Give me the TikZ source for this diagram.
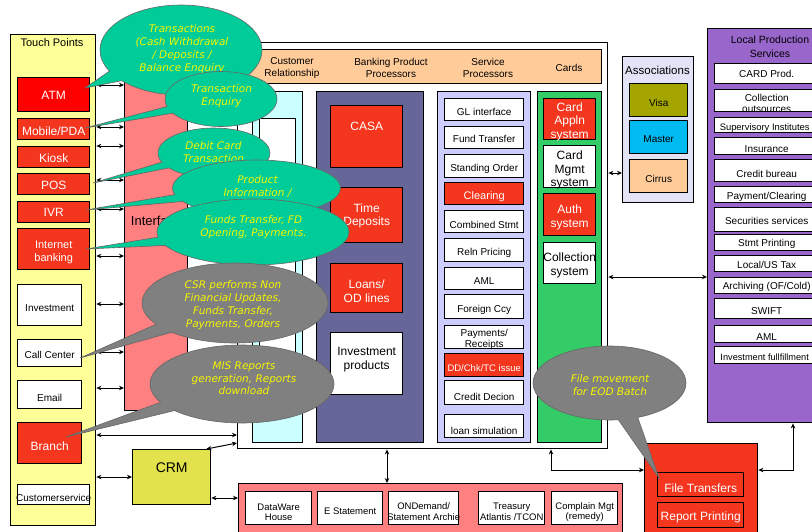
\documentclass[tikz,border=0pt]{standalone}
\usepackage{fontspec}
\setmainfont{Liberation Sans}
\newfontfamily\cofont{DejaVu Sans}
\usetikzlibrary{arrows.meta,shapes.callouts,calc}
\definecolor{tpyel}{HTML}{FFFF99}
\definecolor{atmred}{HTML}{FF0000}
\definecolor{bred}{HTML}{F4361F}
\definecolor{pinkc}{HTML}{FF8080}
\definecolor{cyanc}{HTML}{CCFFFF}
\definecolor{peach}{HTML}{FFCC99}
\definecolor{slate}{HTML}{666699}
\definecolor{lav}{HTML}{CCCCFF}
\definecolor{cgreen}{HTML}{33CC66}
\definecolor{assocbg}{HTML}{E3E3F7}
\definecolor{visac}{HTML}{A5A500}
\definecolor{masterc}{HTML}{00BBF2}
\definecolor{lpsc}{HTML}{9966CC}
\definecolor{crmc}{HTML}{E2E24C}
\definecolor{callg}{HTML}{00CC99}
\definecolor{callgr}{HTML}{808080}
\definecolor{calltxt}{HTML}{F6F600}
\newcommand{\tbox}[9]{%
  \node[bx,#2,anchor=north west,minimum width={(#5)-(#3)},minimum height={(#6)-(#4)}] (#1) at (#3,#4) {};
  \node[#7,inner sep=0pt,align=center] (#1-t) at ($(#1.center)+(0,#8)$) {#9};}
\newcommand{\cbox}[9]{%
  \node[bx,#2,anchor=north west,minimum width={(#5)-(#3)},minimum height={(#6)-(#4)}] (#1) at (#3,#4) {};
  \begin{scope}
    \clip (#1.north west) rectangle (#1.south east);
    \node[#7,inner sep=0pt,align=center] (#1-t) at ($(#1.center)+(0,#8)$) {#9};
  \end{scope}
  \node[bx,anchor=north west,minimum width={(#5)-(#3)},minimum height={(#6)-(#4)}] (#1-b) at (#3,#4) {};}
\begin{document}
\begin{tikzpicture}[x=1pt,y=-1pt,
  bx/.style={draw=black,line width=1.4pt,inner sep=0pt},
  f9/.style={font=\fontsize{9.5}{10.5}\selectfont},
  f10/.style={font=\fontsize{10}{12}\selectfont},
  f11/.style={font=\fontsize{11}{12.5}\selectfont},
  f12/.style={font=\fontsize{12}{13.5}\selectfont},
  wt/.style={text=white},
  dar/.style={arrows={Stealth[length=5pt,width=4.5pt]-Stealth[length=5pt,width=4.5pt]},line width=1pt},
  co/.style={draw=black!60,line width=0.6pt,inner sep=0pt},
  cot/.style={text=calltxt,align=center,font=\cofont\itshape\fontsize{10.5}{13}\selectfont},
]
\useasboundingbox (0,0) rectangle (812,531);
\clip (0,0) rectangle (812,531);
\fill[white] (0,0) rectangle (812,531);

% ---------- Touch points
\tbox{tp}{fill=tpyel}{10}{34}{95}{525}{f11}{0}{}
\node[f11] (tpt) at (52,43) {Touch Points};
\tbox{atm}{fill=atmred}{17}{77}{89}{111}{f12,wt}{1}{ATM}
\tbox{mob}{fill=bred}{17}{118}{89}{139}{f12,wt}{2}{Mobile/PDA}
\tbox{kio}{fill=bred}{17}{146}{89}{167}{f12,wt}{1}{Kiosk}
\tbox{pos}{fill=bred}{17}{173}{89}{194}{f12,wt}{1.5}{POS}
\tbox{ivr}{fill=bred}{17}{201}{89}{222}{f12,wt}{0.5}{IVR}
\tbox{inb}{fill=bred}{17}{228}{89}{269}{f11,wt}{3}{Internet\\banking}
\tbox{inv}{fill=white}{17}{284}{81}{325}{f10}{2.5}{Investment}
\tbox{cc}{fill=white}{17}{339}{81}{366}{f10}{1.5}{Call Center}
\tbox{em}{fill=white}{17}{380}{81}{408}{f10}{3}{Email}
\tbox{br}{fill=bred}{17}{422}{81}{463}{f12,wt}{3.5}{Branch}
\tbox{cs}{fill=white}{17}{484}{89}{504}{f10}{3}{Customerservice}

% ---------- Interface
\tbox{iface}{fill=pinkc}{124}{82}{187}{410}{font=\fontsize{13}{14}\selectfont}{-26}{Interface}

% ---------- Main box
\tbox{main}{fill=white}{237}{42}{607}{448}{f10}{0}{}
\tbox{hdr}{fill=peach}{244}{49}{601}{83}{f10}{0}{}
\node[f10,align=center] (h1) at (292,68) {Customer\\Relationship};
\node[f10,align=center] (h2) at (391,68) {Banking Product\\Processors};
\node[f10,align=center] (h3) at (488,68) {Service\\Processors};
\node[f10] (h4) at (569,68) {Cards};

\tbox{crc}{fill=cyanc}{252}{91}{302}{442}{f10}{0}{}
\tbox{crw}{fill=white}{259}{118}{295}{405}{f10}{0}{}

\tbox{bpp}{fill=slate}{316}{91}{423}{442}{f10}{0}{}
\tbox{casa}{fill=bred}{330}{105}{402}{167}{f12,wt}{-10}{CASA}
\tbox{td}{fill=bred}{330}{187}{402}{242}{f12,wt}{0.5}{Time\\Deposits}
\tbox{loan}{fill=bred}{330}{263}{402}{312}{f12,wt}{3}{Loans/\\OD lines}
\tbox{invp}{fill=white}{330}{332}{402}{394}{f12}{-4}{Investment\\products}

\tbox{sp}{fill=lav}{437}{91}{530}{442}{f10}{0}{}
\tbox{s1}{fill=white}{444}{98}{523}{120}{f10}{2}{GL interface}
\tbox{s2}{fill=white}{444}{126}{523}{148}{f10}{1}{Fund Transfer}
\tbox{s3}{fill=white}{444}{154}{523}{177}{f10}{2.5}{Standing Order}
\tbox{s4}{fill=bred}{444}{182}{523}{204}{f11,wt}{3}{Clearing}
\tbox{s5}{fill=white}{444}{210}{523}{232}{f10}{3}{Combined Stmt}
\tbox{s6}{fill=white}{444}{238}{523}{261}{f10}{2.5}{Reln Pricing}
\tbox{s7}{fill=white}{444}{267}{523}{289}{f10}{2}{AML}
\tbox{s8}{fill=white}{444}{294}{523}{318}{f10}{3}{Foreign Ccy}
\cbox{s9}{fill=white}{444}{325}{523}{348}{font=\fontsize{10}{11.5}\selectfont}{2}{Payments/\\Receipts}
\tbox{s10}{fill=bred}{444}{353}{523}{376}{font=\fontsize{9.5}{11}\selectfont,wt}{2.5}{DD/Chk/TC issue}
\tbox{s11}{fill=white}{444}{380}{523}{404}{f10}{4}{Credit Decion}
\tbox{s12}{fill=white}{444}{414}{523}{437}{f10}{4.5}{loan simulation}

\tbox{cards}{fill=cgreen}{537}{91}{601}{442}{f10}{0}{}
\tbox{k1}{fill=bred}{543}{98}{595}{139}{f12,wt}{2.5}{Card\\Appln\\system}
\cbox{k2}{fill=white}{543}{145}{595}{187}{f12}{3.5}{Card\\Mgmt\\system}
\tbox{k3}{fill=bred}{543}{193}{595}{235}{f12,wt}{2.5}{Auth\\system}
\tbox{k4}{fill=white}{543}{242}{595}{283}{f12}{2}{Collection\\system}

% ---------- Associations
\tbox{assoc}{fill=assocbg}{622}{56}{693}{202}{f10}{0}{}
\node[font=\fontsize{11.5}{13}\selectfont] (assoct) at (657.5,70) {Associations};
\tbox{visa}{fill=visac}{629}{83}{687}{116}{f10}{2.5}{Visa}
\tbox{mast}{fill=masterc}{629}{120}{687}{153}{f10}{1.5}{Master}
\tbox{cirr}{fill=peach}{629}{159}{687}{192}{f10}{2.5}{Cirrus}

% ---------- Local Production Services
\tbox{lps}{fill=lpsc}{707}{28}{830}{422}{f10}{0}{}
\node[font=\fontsize{10.5}{14}\selectfont,align=center] (lpst) at (770,47) {Local Production\\Services};
\tbox{l1}{fill=white}{714}{63}{818}{83}{f10}{0}{CARD Prod.}
\cbox{l2}{fill=white}{714}{89}{818}{111}{font=\fontsize{10}{11}\selectfont}{3}{Collection\\outsources}
\tbox{l3}{fill=white}{714}{117}{818}{132}{font=\fontsize{9.4}{11}\selectfont}{2.5}{\hspace*{-4pt}Supervisory Institutes}
\tbox{l4}{fill=white}{714}{137}{818}{154}{f10}{2.5}{Insurance}
\tbox{l5}{fill=white}{714}{159}{818}{181}{f10}{3}{Credit bureau}
\cbox{l6}{fill=white}{714}{186}{818}{202}{f10}{2}{Payment/Clearing}
\tbox{l7}{fill=white}{714}{207}{818}{231}{f10}{1}{Securities services}
\tbox{l8}{fill=white}{714}{234}{818}{250}{f10}{1}{Stmt Printing}
\tbox{l9}{fill=white}{714}{255}{818}{271}{f10}{1}{Local/US Tax}
\tbox{l10}{fill=white}{714}{277}{818}{293}{f10}{1}{Archiving (OF/Cold)}
\tbox{l11}{fill=white}{714}{298}{818}{318}{f10}{2}{SWIFT}
\cbox{l12}{fill=white}{714}{325}{818}{342}{f10}{2.5}{AML}
\tbox{l13}{fill=white}{714}{346}{818}{363}{font=\fontsize{9.2}{11}\selectfont}{2.5}{\hspace*{-4pt}Investment fullfillment}

% ---------- CRM
\tbox{crm}{fill=crmc}{132}{449}{210}{504}{font=\fontsize{14}{16}\selectfont}{-10}{CRM}

% ---------- Bottom bar
\tbox{bot}{fill=pinkc}{238}{483}{622}{545}{f10}{0}{}
\tbox{b1}{fill=white}{245}{491}{311}{524}{f9}{4}{DataWare\\House}
\tbox{b2}{fill=white}{317}{491}{382}{524}{f9}{3.5}{E Statement}
\tbox{b3}{fill=white}{388}{491}{458}{524}{f9}{3.5}{ONDemand/\\Statement Archie}
\tbox{b4}{fill=white}{478}{491}{544}{524}{f9}{3.5}{Treasury\\Atlantis /TCON}
\tbox{b5}{fill=white}{551}{491}{617}{524}{f9}{4}{Complain Mgt\\(remedy)}

% ---------- File transfers
\tbox{ftb}{fill=bred}{644}{443}{757}{545}{f10}{0}{}
\tbox{ft}{fill=bred}{657}{472}{743}{496}{f12,wt}{4}{File Transfers}
\tbox{rp}{fill=bred}{657}{502}{743}{527}{f12,wt}{2.5}{Report Printing}

% ---------- Connectors
\foreach \yy/\nm in {85/a1,127/a2,146/a3,180/a4,209/a5,256/a6,304/a7,352/a8,388/a9}{
  \coordinate (\nm) at (0,\yy);
  \draw[dar] (tp.east |- \nm) -- (iface.west |- \nm);}
\coordinate (a10) at (0,435);
\draw[dar] (tp.east |- a10) -- (main.west |- a10);
\coordinate (a11) at (0,477);
\draw[dar] (tp.east |- a11) -- (crm.west |- a11);
\coordinate (a12) at (0,498);
\draw[dar] (crm.east |- a12) -- (bot.west |- a12);
\coordinate (a13) at (0,443);
\draw[dar] ([xshift=-5pt]crm.north east) -- (main.west |- a13);
\coordinate (a14) at (387,0);
\draw[dar] (main.south -| a14) -- (bot.north -| a14);
\coordinate (a15) at (0,173);
\draw[dar] (main.east |- a15) -- (assoc.west |- a15);
\coordinate (a16) at (0,277);
\draw[dar] (main.east |- a16) -- (lps.west |- a16);
\coordinate (a17) at (551,0);
\coordinate (a18) at (0,470);
\draw[dar] (main.south -| a17) |- (ftb.west |- a18);
\coordinate (a19) at (793,0);
\draw[dar] (lps.south -| a19) |- (ftb.east |- a18);

% ---------- Callouts
\coordinate (p1) at (85,88);
\coordinate (p2) at (85,128);
\coordinate (p3) at (93,183);
\coordinate (p4) at (86,210);
\coordinate (p5) at (86,249);
\coordinate (p6) at (80,358);
\coordinate (p7) at (66,437);
\coordinate (p8) at (659,478);

\node[ellipse callout,co,fill=callg,minimum width=162,minimum height=90,callout absolute pointer={(p1)}] (c1) at (181,50) {};
\node[cot] (c1t) at (182,49.5) {Transactions\\(Cash Withdrawal\\/ Deposits /\\Balance Enquiry};
\node[ellipse callout,co,fill=callg,minimum width=112,minimum height=55,callout absolute pointer={(p2)}] (c2) at (221,99) {};
\node[cot] (c2t) at (221.5,96.5) {Transaction\\Enquiry};
\node[ellipse callout,co,fill=callg,minimum width=112,minimum height=50,callout absolute pointer={(p3)}] (c3) at (214,153) {};
\node[cot] (c3t) at (213.5,152) {Debit Card\\Transaction};
\node[ellipse callout,co,fill=callg,minimum width=168,minimum height=56,callout absolute pointer={(p4)}] (c4) at (256.5,188) {};
\node[cot] (c4t) at (257.5,186.5) {Product\\Information /};
\node[ellipse callout,co,fill=callg,minimum width=192,minimum height=66,callout absolute pointer={(p5)}] (c5) at (253,232) {};
\node[cot] (c5t) at (253.5,227.5) {Funds Transfer, FD\\Opening, Payments.};
\node[ellipse callout,co,fill=callgr,minimum width=186,minimum height=80,callout absolute pointer={(p6)}] (c6) at (235,303) {};
\node[cot] (c6t) at (233,305.5) {CSR performs Non\\Financial Updates,\\Funds Transfer,\\Payments, Orders};
\node[ellipse callout,co,fill=callgr,minimum width=184,minimum height=78,callout absolute pointer={(p7)}] (c7) at (242,384) {};
\node[cot,font=\cofont\itshape\fontsize{10.5}{12.5}\selectfont] (c7t) at (244,378.5) {MIS Reports\\generation, Reports\\download};
\node[ellipse callout,co,fill=callgr,minimum width=153,minimum height=74,callout absolute pointer={(p8)}] (c8) at (609.5,383) {};
\node[cot] (c8t) at (610,385.5) {File movement\\for EOD Batch};
\end{tikzpicture}
\end{document}
